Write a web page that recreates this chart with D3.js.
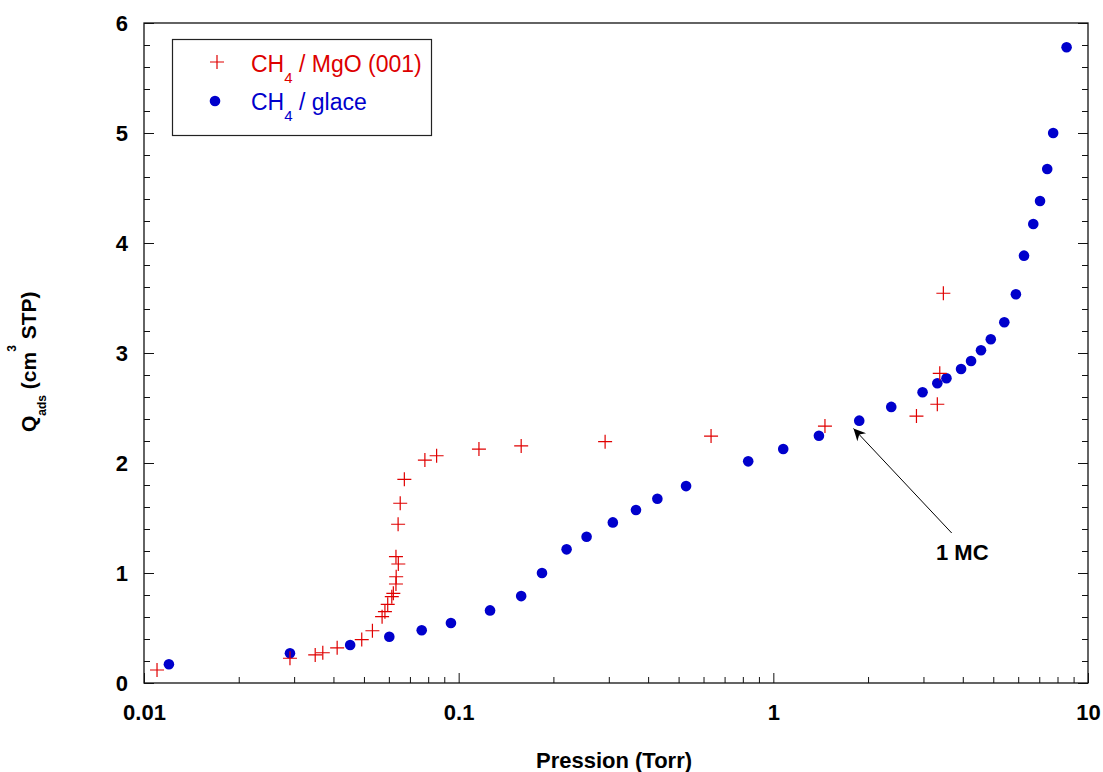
<!DOCTYPE html>
<html>
<head>
<meta charset="utf-8">
<script src="https://cdn.jsdelivr.net/npm/d3@7"></script>
<style>
  body { margin: 0; background: #fff; }
  text { font-family: "Liberation Sans", Arial, sans-serif; }
</style>
</head>
<body>
<div id="chart-area"></div>
<script>
// CH4 / glace (blue dots)
const glaceP = [0.012, 0.0291, 0.0452, 0.0602, 0.0763, 0.0945, 0.1258, 0.158, 0.184, 0.2203,
    0.255, 0.309, 0.366, 0.428, 0.528, 0.832, 1.075, 1.396, 1.875, 2.37,
    2.98, 3.32, 3.55, 3.95, 4.25, 4.57, 4.91, 5.42, 5.90, 6.26,
    6.70, 7.04, 7.42, 7.75, 8.55];
const glaceQ = [0.17, 0.27, 0.345, 0.42, 0.48, 0.545, 0.66, 0.79, 1.00, 1.215,
    1.33, 1.46, 1.573, 1.675, 1.79, 2.015, 2.127, 2.248, 2.385, 2.51,
    2.643, 2.725, 2.77, 2.855, 2.927, 3.025, 3.125, 3.28, 3.534, 3.885,
    4.173, 4.382, 4.673, 5.0, 5.78];

// CH4 / MgO (001) (red crosses)
const mgoP = [0.011, 0.0291, 0.035, 0.037, 0.0411, 0.0492, 0.0532, 0.0571, 0.0583, 0.0595,
    0.0613, 0.062, 0.0632, 0.0633, 0.0643, 0.0632, 0.0642, 0.0652, 0.0672, 0.0781,
    0.0851, 0.116, 0.158, 0.292, 0.634, 1.459, 2.85, 3.32, 3.38, 3.47];
const mgoQ = [0.118, 0.225, 0.255, 0.275, 0.32, 0.395, 0.475, 0.603, 0.648, 0.715,
    0.785, 0.815, 0.90, 0.966, 1.082, 1.148, 1.443, 1.634, 1.852, 2.027,
    2.066, 2.127, 2.155, 2.194, 2.245, 2.336, 2.427, 2.534, 2.815, 3.543];

const xTickValues = [0.01, 0.1, 1, 10];
const xTickLabels = ["0.01", "0.1", "1", "10"];
const yTickValues = [0, 1, 2, 3, 4, 5, 6];

const W = 1103, H = 772;
const margin = {left: 144, right: 15, top: 23, bottom: 89};
const plotW = W - margin.left - margin.right,
      plotH = H - margin.top - margin.bottom;

const svg = d3.select("#chart-area")
    .append("svg")
        .attr("width", W)
        .attr("height", H);

const g = svg.append("g")
    .attr("transform", "translate(" + margin.left + "," + margin.top + ")");

// scales
const x = d3.scaleLog().domain([0.01, 10]).range([0, plotW]);
const y = d3.scaleLinear().domain([0, 6]).range([plotH, 0]);

// minor tick values
let xMinor = [];
[0.01, 0.1, 1].forEach(function(d){
    for (let k = 2; k <= 9; k++) xMinor.push(d * k);
});
let yMinor = d3.range(0, 30).map(function(i){ return i * 0.2; })
    .filter(function(d, i){ return i % 5 !== 0; });

function styleAxis(sel){
    sel.select(".domain").remove();
    sel.selectAll("line").attr("stroke", "#111").attr("stroke-width", 1);
    sel.selectAll("text")
        .attr("font-size", "22px")
        .attr("font-weight", "bold")
        .attr("fill", "#000")
        .style("font-family", "'Liberation Sans', Arial, sans-serif");
}

// X AXIS (bottom)
g.append("g")
    .attr("transform", "translate(0," + plotH + ")")
    .call(d3.axisBottom(x).tickValues(xTickValues)
        .tickFormat(function(d, i){ return xTickLabels[i]; })
        .tickSize(-10).tickPadding(21))
    .call(styleAxis);
g.append("g")
    .attr("transform", "translate(0," + plotH + ")")
    .call(d3.axisBottom(x).tickValues(xMinor).tickFormat("").tickSize(-6))
    .call(styleAxis);

// Y AXIS (left)
g.append("g")
    .call(d3.axisLeft(y).tickValues(yTickValues).tickFormat(d3.format("d"))
        .tickSize(-10).tickPadding(16))
    .call(styleAxis);
g.append("g")
    .call(d3.axisLeft(y).tickValues(yMinor).tickFormat("").tickSize(-6))
    .call(styleAxis);

// right mirror
g.append("g")
    .attr("transform", "translate(" + plotW + ",0)")
    .call(d3.axisRight(y).tickValues(yTickValues).tickFormat("").tickSize(-10))
    .call(styleAxis);
g.append("g")
    .attr("transform", "translate(" + plotW + ",0)")
    .call(d3.axisRight(y).tickValues(yMinor).tickFormat("").tickSize(-6))
    .call(styleAxis);

// frame
g.append("rect")
    .attr("width", plotW)
    .attr("height", plotH)
    .attr("fill", "none")
    .attr("stroke", "#111")
    .attr("stroke-width", 1.3);

// data - blue dots
g.selectAll("circle.glace")
    .data(glaceP)
    .enter()
    .append("circle")
        .attr("class", "glace")
        .attr("cx", function(d){ return x(d); })
        .attr("cy", function(d, i){ return y(glaceQ[i]); })
        .attr("r", 5.3)
        .attr("fill", "#0000cc");

// data - red crosses
const cs = 7;
g.selectAll("path.mgo")
    .data(mgoP)
    .enter()
    .append("path")
        .attr("class", "mgo")
        .attr("d", function(d, i){
            const px = x(d), py = y(mgoQ[i]);
            return "M" + (px - cs) + "," + py + "H" + (px + cs) +
                   "M" + px + "," + (py - cs) + "V" + (py + cs);
        })
        .attr("stroke", "#e00000")
        .attr("stroke-width", 1.2)
        .attr("fill", "none");

// LEGEND
const legend = svg.append("g");
legend.append("rect")
    .attr("x", 172.5).attr("y", 39.5)
    .attr("width", 259).attr("height", 96)
    .attr("fill", "#fff")
    .attr("stroke", "#222")
    .attr("stroke-width", 1.2);
legend.append("path")
    .attr("d", "M" + (217 - cs) + ",62H" + (217 + cs) + "M217," + (62 - cs) + "V" + (62 + cs))
    .attr("stroke", "#e00000").attr("stroke-width", 1.2);
legend.append("circle")
    .attr("cx", 215).attr("cy", 101).attr("r", 5.3)
    .attr("fill", "#0000cc");

function chemLabel(yBase, rest, color){
    const t = legend.append("text")
        .attr("x", 251).attr("y", yBase)
        .attr("font-size", "23px")
        .attr("fill", color);
    t.append("tspan").text("CH");
    t.append("tspan").attr("dy", 11).attr("font-size", "15px").text("4");
    t.append("tspan").attr("dy", -11).text(" " + rest);
}
chemLabel(72, "/ MgO (001)", "#dd0000");
chemLabel(110, "/ glace", "#0000cc");

// AXIS TITLES
svg.append("text")
    .attr("x", 614).attr("y", 768)
    .attr("text-anchor", "middle")
    .attr("font-size", "22px")
    .attr("font-weight", "bold")
    .text("Pression (Torr)");

const yLab = svg.append("text")
    .attr("transform", "translate(36,432) rotate(-90)")
    .attr("font-size", "21px")
    .attr("font-weight", "bold");
yLab.append("tspan").text("Q");
yLab.append("tspan").attr("dy", 10).attr("font-size", "12px").text("ads");
yLab.append("tspan").attr("dy", -10).text(" (cm");
yLab.append("tspan").attr("dy", -20).attr("font-size", "12px").text("3");
yLab.append("tspan").attr("dy", 20).text(" STP)");

// annotation 1 MC
svg.append("defs").append("marker")
    .attr("id", "arrow")
    .attr("viewBox", "0 0 10 10")
    .attr("refX", 10).attr("refY", 5)
    .attr("markerWidth", 17).attr("markerHeight", 12)
    .attr("markerUnits", "userSpaceOnUse")
    .attr("orient", "auto")
    .append("path")
        .attr("d", "M0,0L10,5L0,10L3,5Z")
        .attr("fill", "#000");

svg.append("line")
    .attr("x1", 951.7).attr("y1", 533)
    .attr("x2", 853.5).attr("y2", 428.5)
    .attr("stroke", "#000")
    .attr("stroke-width", 1)
    .attr("marker-end", "url(#arrow)");

svg.append("text")
    .attr("x", 936).attr("y", 560)
    .attr("font-size", "22px")
    .attr("font-weight", "bold")
    .text("1 MC");
</script>
</body>
</html>
